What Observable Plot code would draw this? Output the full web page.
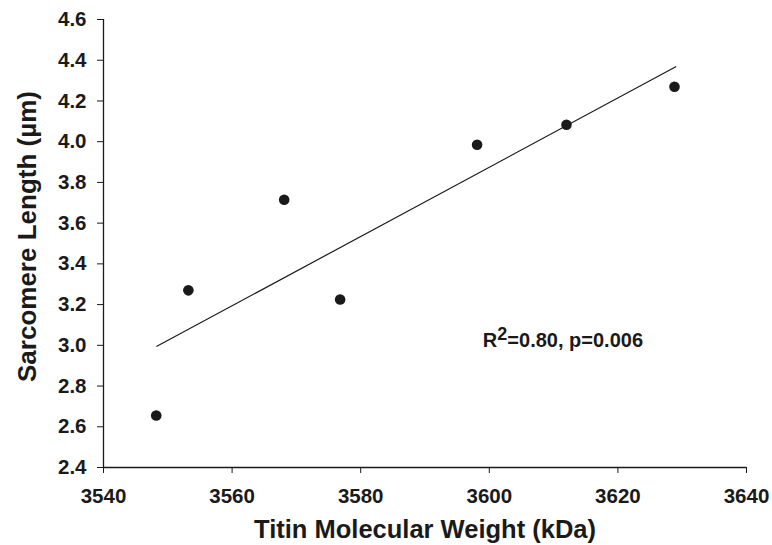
<!DOCTYPE html>
<html>
<head>
<meta charset="utf-8">
<script src="https://cdn.jsdelivr.net/npm/d3@7"></script>
<script src="https://cdn.jsdelivr.net/npm/@observablehq/plot@0.6"></script>
<style>
  html, body { margin: 0; padding: 0; background: #fff; }
  #chart svg { display: block; font-family: Arial, "Liberation Sans", sans-serif; }
</style>
</head>
<body>
<div id="chart"></div>
<script>
// Data
const titinMW = [3548.2, 3553.2, 3568.1, 3576.8, 3598.1, 3612.0, 3628.8];
const sarcomereLength = [2.655, 3.27, 3.715, 3.225, 3.985, 4.083, 4.27];
// Regression line end points
const fitX = [3548.3, 3629.0];
const fitY = [2.995, 4.368];
const xTicks = [3540, 3560, 3580, 3600, 3620, 3640];
const yTicks = [2.4, 2.6, 2.8, 3.0, 3.2, 3.4, 3.6, 3.8, 4.0, 4.2, 4.4, 4.6];
const xTitle = "Titin Molecular Weight (kDa)";
const yTitle = "Sarcomere Length (\u00b5m)";
const statsText = "R2=0.80, p=0.006";
const statsPos = {x: 3599.0, y: 2.99};

const points = titinMW.map((x, i) => ({x, y: sarcomereLength[i]}));
const fit = fitX.map((x, i) => ({x, y: fitY[i]}));

const ink = "#1a1a1a";

const chart = Plot.plot({
  width: 772,
  height: 545,
  marginLeft: 103,
  marginRight: 26,
  marginTop: 19,
  marginBottom: 78,
  x: {domain: [3540, 3640]},
  y: {domain: [2.4, 4.6]},
  marks: [
    Plot.axisX({ticks: xTicks, tickSize: 6, tickPadding: 15, fontSize: 20.5, fontWeight: "bold", label: null, tickFormat: d3.format("d"), color: ink, stroke: ink}),
    Plot.axisY({ticks: yTicks, tickSize: 6, tickPadding: 11, fontSize: 20.5, fontWeight: "bold", label: null, tickFormat: d3.format(".1f"), color: ink, stroke: ink}),
    Plot.ruleX([3540], {stroke: ink, strokeWidth: 1.3}),
    Plot.ruleY([2.4], {stroke: ink, strokeWidth: 1.3}),
    Plot.line(fit, {x: "x", y: "y", stroke: ink, strokeWidth: 1.2}),
    Plot.dot(points, {x: "x", y: "y", r: 5.3, fill: ink, stroke: "none"}),
    Plot.text([statsText], {x: () => statsPos.x, y: () => statsPos.y, text: d => d, textAnchor: "start", lineAnchor: "bottom", fontSize: 20, fontWeight: "bold", fill: ink, className: "stats"}),
    Plot.text([xTitle], {frameAnchor: "bottom", dy: 62, textAnchor: "middle", lineAnchor: "middle", text: d => d, fontSize: 25.5, fontWeight: "bold", fill: ink}),
    Plot.text([yTitle], {frameAnchor: "left", dx: -76, dy: -7, rotate: -90, textAnchor: "middle", lineAnchor: "middle", text: d => d, fontSize: 26, fontWeight: "bold", fill: ink})
  ]
});

document.getElementById("chart").appendChild(chart);

// Superscript the "2" in R2
d3.select(chart).selectAll("g.stats text").each(function() {
  const t = d3.select(this);
  const s = t.text();
  t.text(null);
  t.append("tspan").text(s.slice(0, 1));
  t.append("tspan").attr("dy", "-0.4em").attr("font-size", "0.9em").text(s.slice(1, 2));
  t.append("tspan").attr("dy", "0.36em").text(s.slice(2));
});
</script>
</body>
</html>
